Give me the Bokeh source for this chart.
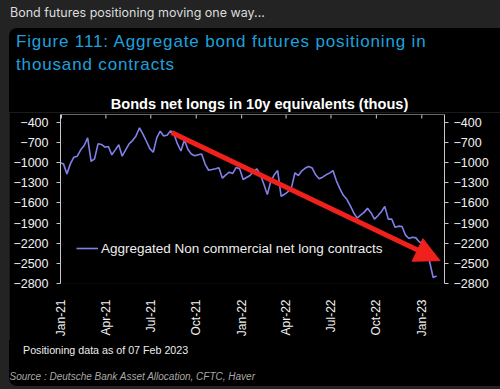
import numpy as np
import pandas as pd
from bokeh.plotting import figure
from bokeh.models import (LinearAxis, FixedTicker, Range1d, Legend, LegendItem, Arrow,
                          NormalHead, Div, GlobalInlineStyleSheet, DatetimeTickFormatter, Span)
from bokeh.layouts import column
from bokeh.embed import file_html
from bokeh.resources import INLINE

# ---------------- data ----------------
header = "Bond futures positioning moving one way..."
fig_title_1 = "Figure 111: Aggregate bond futures positioning in"
fig_title_2 = "thousand contracts"
chart_title = "Bonds net longs in 10y equivalents (thous)"
series_name = "Aggregated Non commercial net long contracts"
note = "Positioning data as of 07 Feb 2023"
source = "Source : Deutsche Bank Asset Allocation, CFTC, Haver"

first_week = "2020-12-29"
net_longs = [
    -1000, -1017, -1166, -1017, -918, -903, -808, -743, -628, -978,
    -942, -718, -728, -769, -758, -882, -808, -733, -903, -808,
    -718, -670, -600, -479, -575, -680, -790, -843, -630, -530,
    -600, -590, -525, -575, -720, -825, -660, -800, -870, -895,
    -880, -870, -1020, -1112, -1102, -1090, -1076, -1230, -1180, -1140,
    -1160, -1070, -1090, -1250, -1220, -1190, -1130, -1090, -1180, -1320,
    -1475, -1280, -1180, -1117, -1500, -1470, -1430, -1370, -1150, -1191,
    -1120, -1080, -1057, -1080, -1180, -1240, -1215, -1180, -1155, -1117,
    -1270, -1385, -1485, -1545, -1640, -1745, -1825, -1780, -1740, -1680,
    -1745, -1840, -1790, -1730, -1650, -1840, -1838, -1963, -1945, -1950,
    -2080, -2130, -2110, -2120, -2180, -2195, -2300, -2480, -2710, -2690,
]
y_ticks = [-400, -700, -1000, -1300, -1600, -1900, -2200, -2500, -2800]
x_tick_dates = ["2021-01-01", "2021-04-01", "2021-07-01", "2021-10-01", "2022-01-01",
                "2022-04-01", "2022-07-01", "2022-10-01", "2023-01-01"]
x_tick_labels = ["Jan-21", "Apr-21", "Jul-21", "Oct-21", "Jan-22",
                 "Apr-22", "Jul-22", "Oct-22", "Jan-23"]
x_limits = ["2020-12-30", "2023-02-16"]
y_limits = [-2800, -281]
trend_from = ("2021-08-12", -549)
trend_to = ("2023-02-07", -2460)

# ---------------- helpers ----------------
def ms(d):
    return pd.Timestamp(d).value / 1e6

dates = pd.date_range(first_week, periods=len(net_longs), freq="7D")
tick_ms = [ms(d) for d in x_tick_dates]

FONT = "Liberation Sans"
BG = "#232323"
LINE = "#8080e8"
AX = "#c8c8c8"
TXT = "#f2f2f2"
RED = "#f0201c"

FRAME_H = 169
p = figure(width=491, height=228, output_backend="svg", toolbar_location=None,
           x_axis_type="datetime",
           x_range=Range1d(ms(x_limits[0]), ms(x_limits[1])),
           y_range=Range1d(y_limits[0], y_limits[1]),
           min_border_left=51, min_border_right=56, min_border_top=2,
           min_border_bottom=57, margin=(0, 0, 0, 9))
p.background_fill_color = "black"
p.border_fill_color = "black"
p.outline_line_color = None
p.xgrid.visible = False
p.ygrid.visible = False

xt = FixedTicker(ticks=tick_ms)
xa = p.xaxis[0]
xa.ticker = xt
xa.formatter = DatetimeTickFormatter(months="%b-%y", days="%b-%y", years="%b-%y")
xa.major_label_overrides = {t: l for t, l in zip(tick_ms, x_tick_labels)}
xa.axis_line_color = None
xa.major_tick_line_color = None
xa.minor_tick_line_color = None
xa.major_label_orientation = np.pi / 2
xa.major_label_standoff = 10
xa.major_label_text_font = FONT
xa.major_label_text_font_size = "12px"
xa.major_label_text_color = TXT

# top frame line with inward quarter ticks
p.add_layout(Span(location=y_limits[1], dimension="width", line_color=AX, line_width=1))
tick_len = 4 * (y_limits[1] - y_limits[0]) / FRAME_H
p.segment(x0=tick_ms, y0=[y_limits[1]] * len(tick_ms), x1=tick_ms,
          y1=[y_limits[1] - tick_len] * len(tick_ms), line_color=AX, line_width=1)

ya = p.yaxis[0]
ya.ticker = FixedTicker(ticks=y_ticks)
ya.axis_line_color = AX
ya.major_tick_line_color = AX
ya.major_tick_in = 0
ya.major_tick_out = 4
ya.minor_tick_line_color = None
ya.major_label_standoff = 8
ya.major_label_text_font = FONT
ya.major_label_text_font_size = "12.5px"
ya.major_label_text_color = TXT

ra = LinearAxis(ticker=FixedTicker(ticks=y_ticks), axis_line_color=AX,
                major_tick_line_color=AX, major_tick_in=0, major_tick_out=4,
                minor_tick_line_color=None, major_label_standoff=5,
                major_label_text_font=FONT, major_label_text_font_size="12.5px",
                major_label_text_color=TXT)
p.add_layout(ra, "right")

r = p.line(dates, net_longs, line_color=LINE, line_width=1.6)

legend = Legend(items=[LegendItem(label=series_name, renderers=[r])],
                location=(16, 27), padding=0, margin=0, spacing=0,
                glyph_width=22, glyph_height=16, label_standoff=3,
                label_text_font=FONT, label_text_font_size="13.5px",
                label_text_color="#eeeeee", background_fill_alpha=0,
                border_line_color=None)
p.add_layout(legend, "center")

arrow = Arrow(x_start=ms(trend_from[0]), y_start=trend_from[1],
              x_end=ms(trend_to[0]), y_end=trend_to[1],
              line_color=RED, line_width=5,
              end=NormalHead(size=25, fill_color=RED, line_color=RED))
p.add_layout(arrow)

# ---------------- text panels ----------------
FF = "'Liberation Sans', Arial, sans-serif"

def txt(text, left, top, size, color, extra=""):
    return (f'<div style="position:absolute;left:{left}px;top:{top}px;font-size:{size}px;'
            f'line-height:{size}px;color:{color};white-space:nowrap;{extra}">{text}</div>')

def panel(inner, w, h, extra=""):
    return (f'<div style="position:relative;width:{w}px;height:{h}px;overflow:hidden;'
            f'font-family:{FF};{extra}">{inner}</div>')

head = Div(text=panel(txt(header, 10, 7.3, 12.5, "#dcdcdc", "font-family:Inter, sans-serif;"),
                      500, 28, f"background:{BG};"),
           width=500, height=28, margin=0)

top_inner = (txt(fig_title_1, 7, 4.6, 17, "#1fa0dc", "letter-spacing:0.85px;")
             + txt(fig_title_2, 7, 28.3, 17, "#1fa0dc", "letter-spacing:0.85px;")
             + txt(chart_title, 0, 68.6, 14.6, "#ffffff",
                   "width:501px;text-align:center;font-weight:bold;"))
top_div = Div(text=panel(top_inner, 491, 84, "background:#000;border-top-left-radius:8px;"),
              width=491, height=84, margin=(0, 0, 0, 9))

bot_inner = (txt(note, 14, 4.9, 10.7, "#ececec")
             + txt(source, 0.5, 31.6, 10, "#a8a8a8", "font-style:italic;"))
bot_div = Div(text=panel(bot_inner, 491, 46, "background:#000;border-bottom-left-radius:8px;"),
              width=491, height=46, margin=(0, 0, 0, 9))

page = column(head, top_div, p, bot_div, spacing=0,
              stylesheets=[GlobalInlineStyleSheet(
                  css="html, body { margin:0 !important; padding:0; background:#232323; overflow:hidden; }")])

open("out.html", "w").write(file_html(page, INLINE))
